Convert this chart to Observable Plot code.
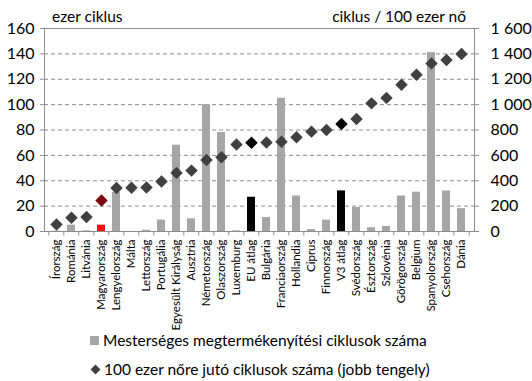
<!DOCTYPE html>
<html>
<head>
<meta charset="utf-8">
<script src="https://cdn.jsdelivr.net/npm/d3@7"></script>
<script src="https://cdn.jsdelivr.net/npm/@observablehq/plot@0.6"></script>
<style>
  html, body { margin: 0; padding: 0; background: #fff; }
  #wrap { position: relative; width: 532px; height: 381px; font-family: Lato, sans-serif; color: #000; overflow: hidden; }
  .ttl { position: absolute; top: 7px; font-size: 15.5px; white-space: nowrap; }
  #legend { position: absolute; left: 90px; top: 326px; font-size: 15.5px; line-height: 29px; white-space: nowrap; }
  .sw { display: inline-block; width: 9px; height: 9px; background: #a6a6a6; margin-right: 4px; vertical-align: 1px; }
  .dm { display: inline-block; width: 7px; height: 7px; background: #404040; transform: rotate(45deg); margin: 0 5px 0 2px; vertical-align: 2px; }
</style>
</head>
<body>
<div id="wrap">
  <div class="ttl" style="left:52px">ezer ciklus</div>
  <div class="ttl" style="right:66px">ciklus / 100 ezer nő</div>
  <div id="chart"></div>
  <div id="legend">
    <div><span class="sw"></span>Mesterséges megtermékenyítési ciklusok száma</div>
    <div><span class="dm"></span>100 ezer nőre jutó ciklusok száma (jobb tengely)</div>
  </div>
</div>
<script>
const categories = ["Írország","Románia","Litvánia","Magyarország","Lengyelország","Málta","Lettország","Portugália","Egyesült Királyság","Ausztria","Németország","Olaszország","Luxemburg","EU átlag","Bulgária","Franciaország","Hollandia","Ciprus","Finnország","V3 átlag","Svédország","Észtország","Szlovénia","Görögország","Belgium","Spanyolország","Csehország","Dánia"];
// Mesterséges megtermékenyítési ciklusok száma (ezer ciklus)
const cycles = [0.3, 5, 0.5, 5, 31, 0, 1, 9, 68, 10, 100, 78, 0.5, 27, 11, 105, 28, 1.5, 9, 32, 19, 3, 4, 28, 31, 141, 32, 18];
// 100 ezer nőre jutó ciklusok száma (jobb tengely)
const perWomen = [55, 108, 115, 245, 343, 345, 347, 394, 462, 480, 564, 585, 685, 700, 702, 708, 743, 787, 800, 848, 887, 1010, 1053, 1157, 1236, 1325, 1352, 1399];
const leftTicks = [0, 20, 40, 60, 80, 100, 120, 140, 160];

const data = categories.map((c, i) => ({cat: c, cycles: cycles[i], per: perWomen[i]}));
const barColor = d => d.cat === "Magyarország" ? "#f01010" : d.cat.includes("átlag") ? "#000000" : "#a6a6a6";
const dotColor = d => d.cat === "Magyarország" ? "#7a0a0a" : d.cat.includes("átlag") ? "#000000" : "#404040";
const fmt = v => v >= 1000 ? `${Math.floor(v / 1000)} ${String(v % 1000).padStart(3, "0")}` : `${v}`;

const W = 532, ML = 44, MR = 58;
const step = (W - ML - MR) / categories.length;
const gray = "#8c8c8c";

const chart = Plot.plot({
  width: W, height: 333,
  marginTop: 28, marginBottom: 102, marginLeft: ML, marginRight: MR,
  style: {fontFamily: "Lato, sans-serif", fontSize: "12px", color: "#000", background: "white"},
  x: {type: "band", domain: categories, paddingInner: 0.45, paddingOuter: 0.225},
  y: {domain: [0, 160]},
  marks: [
    Plot.gridY(leftTicks.filter(t => t > 0 && t < 160), {stroke: gray, strokeOpacity: 1, strokeDasharray: "4,3"}),
    Plot.barY(data, {x: "cat", y: "cycles", fill: barColor}),
    Plot.frame({stroke: gray}),
    Plot.ruleX(categories, {x: d => d, y1: 0, y2: -3.5, dx: -step / 2, stroke: gray}),
    Plot.ruleX(categories.slice(-1), {x: d => d, y1: 0, y2: -3.5, dx: step / 2, stroke: gray}),
    Plot.axisY({anchor: "left", ticks: leftTicks, tickSize: 4, tickPadding: 6, fontSize: 16, label: null, stroke: gray, fill: "#000"}),
    Plot.axisY({anchor: "right", ticks: leftTicks, tickSize: 4, tickPadding: 12, fontSize: 16, label: null, stroke: gray, fill: "#000", textAnchor: "start", tickFormat: d => fmt(d * 10)}),
    Plot.axisX({tickRotate: -90, tickSize: 0, tickPadding: 8, fontSize: 11.5, label: null, fill: "#000"}),
    Plot.dot(data, {x: "cat", y: d => d.per / 10, symbol: "diamond2", r: 5.6, fill: dotColor, stroke: "none"})
  ]
});
document.getElementById("chart").appendChild(chart);
</script>
</body>
</html>
